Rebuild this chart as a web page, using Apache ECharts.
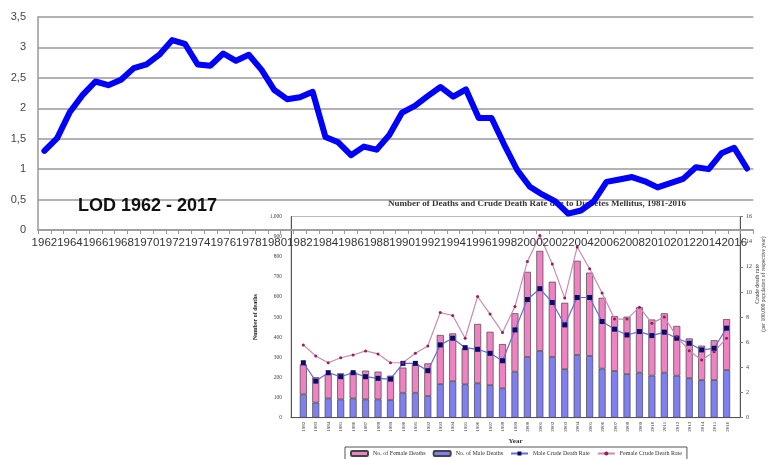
<!DOCTYPE html>
<html>
<head>
<meta charset="utf-8">
<script src="https://cdn.jsdelivr.net/npm/echarts@6/dist/echarts.min.js"></script>
<style>
  html, body { margin: 0; padding: 0; background: #fff; }
  #chart { width: 776px; height: 459px; }
</style>
</head>
<body>
<div id="chart"></div>
<script>
// main chart: LOD by year
const lodYears = [];
for (let y = 1962; y <= 2017; y++) lodYears.push(String(y));
const lodValues = [
  1.30, 1.51, 1.94, 2.22, 2.44, 2.38, 2.47, 2.66, 2.72, 2.88,
  3.12, 3.06, 2.72, 2.70, 2.90, 2.78, 2.88, 2.63, 2.30, 2.15,
  2.18, 2.27, 1.53, 1.44, 1.23, 1.37, 1.32, 1.56, 1.93, 2.04,
  2.20, 2.35, 2.19, 2.31, 1.84, 1.84, 1.40, 0.99, 0.71, 0.58,
  0.47, 0.27, 0.32, 0.47, 0.79, 0.83, 0.87, 0.80, 0.70, 0.77,
  0.84, 1.03, 1.00, 1.26, 1.35, 1.01
];

// inset chart: deaths and crude death rates
const insetYears = [];
for (let y = 1982; y <= 2016; y++) insetYears.push(String(y));
const maleDeaths = [
  116, 75, 96, 91, 96, 91, 91, 88, 124, 124, 108, 167, 181, 166, 171, 162, 146, 229,
  302, 332, 302, 241, 312, 307, 244, 232, 217, 224, 209, 224, 209, 196, 187, 187, 237
];
const femaleDeaths = [
  149, 126, 120, 130, 130, 143, 138, 121, 125, 141, 162, 244, 238, 179, 295, 265, 220, 290,
  423, 497, 374, 330, 468, 414, 352, 273, 285, 325, 279, 295, 247, 198, 171, 198, 253
];
const maleRate = [
  4.37, 2.91, 3.58, 3.26, 3.58, 3.26, 3.13, 3.07, 4.32, 4.32, 3.74, 5.79, 6.32, 5.57, 5.44, 5.12, 4.53, 6.98,
  9.40, 10.26, 9.16, 7.38, 9.56, 9.56, 7.65, 7.04, 6.58, 6.85, 6.53, 6.80, 6.32, 5.92, 5.39, 5.52, 7.12
];
const femaleRate = [
  5.79, 4.91, 4.37, 4.77, 4.99, 5.31, 5.07, 4.37, 4.37, 5.12, 5.71, 8.36, 8.13, 6.32, 9.64, 8.24, 6.77, 8.84,
  12.43, 14.49, 12.23, 9.51, 13.58, 11.85, 9.91, 7.84, 7.84, 8.79, 7.52, 8.00, 6.45, 5.33, 4.59, 5.25, 6.32
];

const chart = echarts.init(document.getElementById('chart'));
const serif = 'Liberation Serif';

const option = {
  animation: false,
  backgroundColor: '#fff',
  grid: [
    { left: 38, right: 22.6, top: 17, bottom: 229 },
    // inset frame with its axes
    { left: 291, right: 36, top: 216.5, bottom: 41.3, show: true, borderColor: '#aaa', borderWidth: 0.8, z: 0 },
    // inset data area (bars sit one band in from the frame)
    { left: 297.1, right: 43.2, top: 216.5, bottom: 41.3 }
  ],
  legend: {
    data: ['No. of Female Deaths', 'No. of Male Deaths', 'Male Crude Death Rate', 'Female Crude Death Rate'],
    left: 345,
    top: 447,
    itemWidth: 17,
    itemHeight: 5,
    itemGap: 7,
    padding: [3, 5],
    borderColor: '#555',
    borderWidth: 1,
    textStyle: { fontSize: 6, fontFamily: serif, color: '#333' }
  },
  xAxis: [
    {
      type: 'category',
      gridIndex: 0,
      data: lodYears,
      z: 5,
      axisLine: { lineStyle: { color: '#999', width: 1.5 } },
      axisTick: { show: true, interval: 0, length: 4, lineStyle: { color: '#999' } },
      axisLabel: { interval: 1, margin: 7, fontSize: 11.5, fontFamily: 'Liberation Sans', color: '#333' }
    },
    {
      type: 'value',
      gridIndex: 1,
      min: 1981,
      max: 2017,
      interval: 1,
      z: 0,
      name: 'Year',
      nameLocation: 'middle',
      nameGap: 20,
      nameTextStyle: { fontSize: 7, fontWeight: 'bold', fontFamily: serif, color: '#333' },
      splitLine: { show: false },
      axisLine: { lineStyle: { color: '#555' } },
      axisTick: { show: false },
      axisLabel: {
        rotate: 90, fontSize: 5, margin: 4, fontFamily: serif, color: '#333',
        showMinLabel: false, showMaxLabel: false,
        formatter: (v) => (v === 1981 || v === 2017) ? '' : String(v)
      }
    },
    {
      type: 'category',
      gridIndex: 2,
      data: insetYears,
      show: false
    }
  ],
  yAxis: [
    {
      type: 'value',
      gridIndex: 0,
      min: 0,
      max: 3.5,
      interval: 0.5,
      z: 5,
      axisLine: { show: true, lineStyle: { color: '#999', width: 1.5 } },
      axisTick: { show: false },
      splitLine: { lineStyle: { color: '#999', width: 1.5 } },
      axisLabel: {
        margin: 12, fontSize: 11, fontFamily: 'Liberation Sans', color: '#444',
        formatter: (v) => String(v).replace('.', ',')
      }
    },
    {
      type: 'value',
      gridIndex: 1,
      min: 0,
      max: 1000,
      interval: 100,
      z: 0,
      name: 'Number of deaths',
      nameLocation: 'middle',
      nameGap: 22,
      nameTextStyle: { fontSize: 6, fontWeight: 'bold', fontFamily: serif, color: '#222' },
      axisLine: { show: true, lineStyle: { color: '#555' } },
      axisTick: { show: false },
      splitLine: { show: false },
      axisLabel: {
        margin: 9, fontSize: 5.5, fontFamily: serif, color: '#444',
        formatter: (v) => v.toLocaleString('en-US')
      }
    },
    {
      type: 'value',
      gridIndex: 1,
      position: 'right',
      min: 0,
      max: 16,
      interval: 2,
      z: 0,
      axisLine: { show: true, lineStyle: { color: '#555' } },
      axisTick: { show: true, length: 3, lineStyle: { color: '#777' } },
      splitLine: { show: false },
      axisLabel: { margin: 6, fontSize: 6, fontFamily: serif, color: '#444' }
    },
    { type: 'value', gridIndex: 2, min: 0, max: 1000, show: false, splitLine: { show: false } },
    { type: 'value', gridIndex: 2, min: 0, max: 16, show: false, splitLine: { show: false } }
  ],
  graphic: [
    {
      type: 'text',
      left: 78,
      top: 197,
      z: 20,
      style: { text: 'LOD 1962 - 2017', font: 'bold 18px "Liberation Sans"', fill: '#111' }
    },
    {
      type: 'text',
      x: 537,
      y: 204,
      z: 1,
      style: {
        text: 'Number of Deaths and Crude Death Rate due to Diabetes Mellitus, 1981-2016',
        font: 'bold 9px "Liberation Serif"', fill: '#333',
        align: 'center', verticalAlign: 'middle'
      }
    },
    {
      type: 'text',
      x: 757,
      y: 284,
      rotation: Math.PI / 2,
      z: 1,
      style: { text: 'Crude death rate', font: '6px "Liberation Serif"', fill: '#333', align: 'center', verticalAlign: 'middle' }
    },
    {
      type: 'text',
      x: 764,
      y: 284,
      rotation: Math.PI / 2,
      z: 1,
      style: { text: '(per 100,000 population of respective year)', font: '5.5px "Liberation Serif"', fill: '#333', align: 'center', verticalAlign: 'middle' }
    }
  ],
  series: [
    {
      name: 'No. of Male Deaths',
      type: 'bar',
      xAxisIndex: 2,
      yAxisIndex: 3,
      stack: 'deaths',
      barWidth: 7,
      z: 1,
      itemStyle: { color: '#7f7ff0', borderColor: '#444', borderWidth: 0.7 },
      data: maleDeaths
    },
    {
      name: 'No. of Female Deaths',
      type: 'bar',
      xAxisIndex: 2,
      yAxisIndex: 3,
      stack: 'deaths',
      barWidth: 7,
      z: 1,
      itemStyle: { color: '#ef82c3', borderColor: '#444', borderWidth: 0.7 },
      data: femaleDeaths
    },
    {
      name: 'Male Crude Death Rate',
      type: 'line',
      xAxisIndex: 2,
      yAxisIndex: 4,
      z: 2,
      symbol: 'rect',
      symbolSize: 5,
      lineStyle: { color: '#6a6ad8', width: 1.2 },
      itemStyle: { color: '#0b0b6a' },
      data: maleRate
    },
    {
      name: 'Female Crude Death Rate',
      type: 'line',
      xAxisIndex: 2,
      yAxisIndex: 4,
      z: 2,
      symbol: 'circle',
      symbolSize: 3,
      lineStyle: { color: '#c98bb0', width: 1.2 },
      itemStyle: { color: '#9a1a5a' },
      data: femaleRate
    },
    {
      name: 'LOD',
      type: 'line',
      xAxisIndex: 0,
      yAxisIndex: 0,
      z: 10,
      symbol: 'none',
      lineStyle: { color: '#0000ff', width: 6, join: 'round', cap: 'round' },
      data: lodValues
    }
  ]
};

chart.setOption(option);
</script>
</body>
</html>
